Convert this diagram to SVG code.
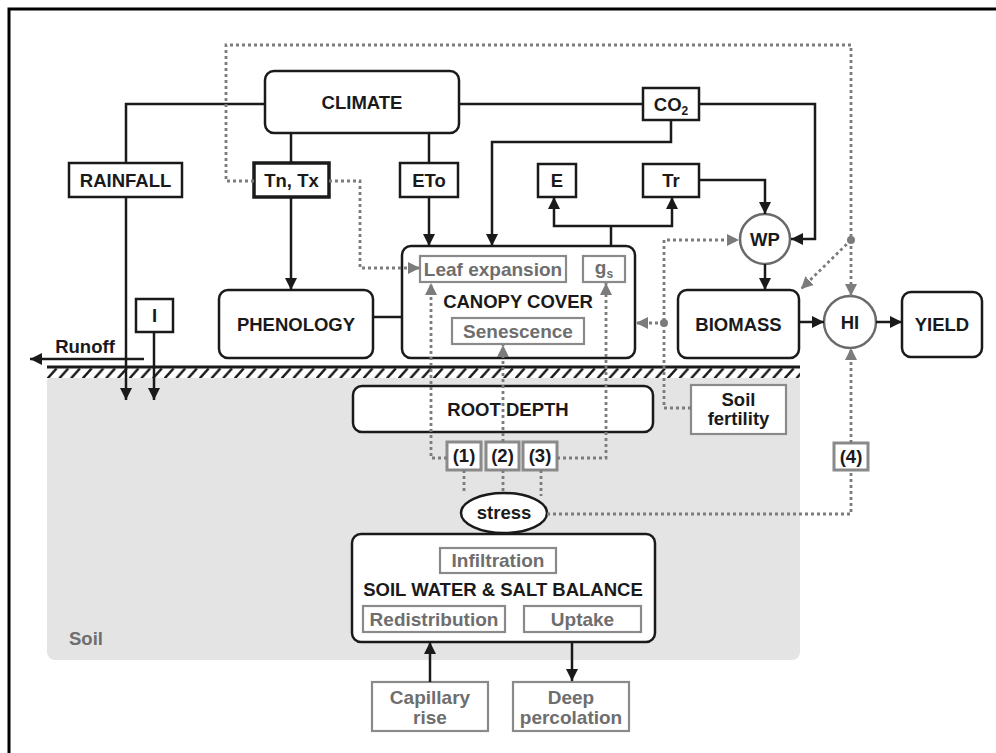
<svg xmlns="http://www.w3.org/2000/svg" width="996" height="753" viewBox="0 0 996 753">
<defs>
<style>
text{font-family:"Liberation Sans",Arial,sans-serif;font-weight:bold;text-anchor:middle}
.t{font-size:18.5px;fill:#1a1a1a}
.g{font-size:19px;fill:#6e6e6e}
.bx{fill:#fff;stroke:#1a1a1a;stroke-width:2.5}
.gb{fill:#fff;stroke:#8a8a8a;stroke-width:2.2}
.ln{fill:none;stroke:#1a1a1a;stroke-width:2.5}
.dt{fill:none;stroke:#7c7c7c;stroke-width:2.8;stroke-dasharray:3 3}
.ce{fill:#fff;stroke:#6a6a6a;stroke-width:2.5}
</style>
<marker id="a" viewBox="0 0 10 10" refX="10" refY="5" markerWidth="12" markerHeight="12" markerUnits="userSpaceOnUse" orient="auto"><path d="M0,0L10,5L0,10z" fill="#1a1a1a"/></marker>
<marker id="ag" viewBox="0 0 10 10" refX="10" refY="5" markerWidth="12" markerHeight="12" markerUnits="userSpaceOnUse" orient="auto"><path d="M0,0L10,5L0,10z" fill="#7c7c7c"/></marker>
<pattern id="hatch" patternUnits="userSpaceOnUse" x="47" y="367" width="11.7" height="12"><path d="M0.5,11.5L9.5,1.5" stroke="#1a1a1a" stroke-width="2.5"/></pattern>
</defs>
<rect width="996" height="753" fill="#fff"/>
<g id="background">
<path d="M9,753V9H996" fill="none" stroke="#000" stroke-width="3"/>
<rect x="47" y="374" width="753" height="286" rx="8" fill="#e4e4e4"/>
<rect x="47" y="367" width="753" height="11" fill="#fff"/>
<rect x="47" y="367" width="753" height="11" fill="url(#hatch)"/>
<path d="M47,367H800" stroke="#1a1a1a" stroke-width="3"/>
<text x="86" y="645" style="font-size:18.5px;fill:#6e6e6e">Soil</text>
<text x="85" y="353" class="t">Runoff</text>
</g>
<g id="climate"><rect class="bx" x="265" y="71" width="194" height="62" rx="9"/><text class="t" x="362" y="108.5">CLIMATE</text></g>
<g id="rainfall"><rect class="bx" x="69" y="163" width="113" height="34"/><text class="t" x="125.5" y="186.5">RAINFALL</text></g>
<g id="tntx"><rect class="bx" x="254" y="163" width="75" height="34" style="stroke-width:3.5"/><text class="t" x="291.5" y="186.5">Tn, Tx</text></g>
<g id="eto"><rect class="bx" x="400" y="163" width="58" height="34"/><text class="t" x="429" y="186.5">ETo</text></g>
<g id="co2"><rect class="bx" x="643" y="88" width="56" height="32"/><text class="t" x="671" y="110.5">CO<tspan style="font-size:12px" dy="4">2</tspan></text></g>
<g id="e"><rect class="bx" x="538" y="164" width="38" height="33"/><text class="t" x="557" y="187">E</text></g>
<g id="tr"><rect class="bx" x="643" y="164" width="56" height="33"/><text class="t" x="671" y="187">Tr</text></g>
<g id="wp"><circle class="ce" cx="765" cy="239" r="25"/><text class="t" x="765" y="245.5">WP</text></g>
<g id="canopy">
<rect class="bx" x="402" y="246" width="233" height="112" rx="9"/>
<rect class="gb" x="420" y="256" width="146" height="26"/><text class="g" x="493" y="275.5">Leaf expansion</text>
<rect class="gb" x="583" y="256" width="42" height="26"/><text class="g" x="604" y="274">g<tspan style="font-size:12px" dy="4">s</tspan></text>
<text class="t" x="518" y="307.5">CANOPY COVER</text>
<rect class="gb" x="452" y="318" width="132" height="26"/><text class="g" x="518" y="337.5">Senescence</text>
</g>
<g id="phenology"><rect class="bx" x="219" y="290" width="154" height="68" rx="9"/><text class="t" x="296" y="330.5">PHENOLOGY</text></g>
<g id="biomass"><rect class="bx" x="678" y="290" width="121" height="68" rx="9"/><text class="t" x="738.5" y="330.5">BIOMASS</text></g>
<g id="hi"><circle class="ce" cx="850" cy="322" r="26"/><text class="t" x="850" y="328.5">HI</text></g>
<g id="yield"><rect class="bx" x="902" y="292" width="80" height="65" rx="9"/><text class="t" x="942" y="330.5">YIELD</text></g>
<g id="irrigation"><rect class="bx" x="136" y="299" width="37" height="33"/><text class="t" x="154.5" y="322">I</text></g>
<g id="rootdepth"><rect class="bx" x="353" y="386" width="300" height="46" rx="9"/><text class="t" x="508" y="415.5">ROOT DEPTH</text></g>
<g id="soilfertility"><rect class="gb" x="691" y="385" width="95" height="49"/><text class="t" x="738.5" y="406">Soil</text><text class="t" x="738.5" y="425">fertility</text></g>
<g id="s1"><rect class="gb" x="447" y="442" width="34" height="28" style="stroke-width:3"/><text class="t" x="464" y="462">(1)</text></g>
<g id="s2"><rect class="gb" x="486" y="442" width="33" height="28" style="stroke-width:3"/><text class="t" x="502.5" y="462">(2)</text></g>
<g id="s3"><rect class="gb" x="523" y="442" width="34" height="28" style="stroke-width:3"/><text class="t" x="540" y="462">(3)</text></g>
<g id="s4"><rect class="gb" x="834" y="443" width="34" height="27" style="stroke-width:3"/><text class="t" x="851" y="463">(4)</text></g>
<g id="stress"><ellipse class="bx" cx="504" cy="513" rx="43" ry="20"/><text class="t" x="504" y="519">stress</text></g>
<g id="soilwater">
<rect class="bx" x="352" y="534" width="303" height="108" rx="9"/>
<rect class="gb" x="440" y="548" width="116" height="25"/><text class="g" x="498" y="567">Infiltration</text>
<text class="t" x="503" y="595.5">SOIL WATER &amp; SALT BALANCE</text>
<rect class="gb" x="363" y="606" width="142" height="26"/><text class="g" x="434" y="625.5">Redistribution</text>
<rect class="gb" x="524" y="606" width="117" height="26"/><text class="g" x="582.5" y="625.5">Uptake</text>
</g>
<g id="capillary"><rect class="gb" x="372" y="682" width="116" height="49"/><text class="g" x="430" y="703.5">Capillary</text><text class="g" x="430" y="723.5">rise</text></g>
<g id="deep"><rect class="gb" x="513" y="682" width="116" height="49"/><text class="g" x="571" y="703.5">Deep</text><text class="g" x="571" y="723.5">percolation</text></g>
<g id="connectors">
<path class="ln" d="M265,104H126V163"/>
<path class="ln" d="M291,133V163"/>
<path class="ln" d="M429,133V163"/>
<path class="ln" d="M459,104H643"/>
<path class="ln" d="M699,104H815V239H791" marker-end="url(#a)"/>
<path class="ln" d="M671,120V142H492V246" marker-end="url(#a)"/>
<path class="ln" d="M429,197V246" marker-end="url(#a)"/>
<path class="ln" d="M291,197V290" marker-end="url(#a)"/>
<path class="ln" d="M126,197V400" marker-end="url(#a)"/>
<path class="ln" d="M154,332V400" marker-end="url(#a)"/>
<path class="ln" d="M144,359H30" marker-end="url(#a)"/>
<path class="ln" d="M373,317H402"/>
<path class="ln" d="M611,246V226"/>
<path class="ln" d="M611,226H554V197" marker-end="url(#a)"/>
<path class="ln" d="M611,226H672V197" marker-end="url(#a)"/>
<path class="ln" d="M699,180H765V214" marker-end="url(#a)"/>
<path class="ln" d="M765,264V290" marker-end="url(#a)"/>
<path class="ln" d="M799,322H824" marker-end="url(#a)"/>
<path class="ln" d="M876,322H902" marker-end="url(#a)"/>
<path class="ln" d="M430,682V642" marker-end="url(#a)"/>
<path class="ln" d="M572,642V681" marker-end="url(#a)"/>
<path class="dt" d="M254,181H226V45H851V296" marker-end="url(#ag)"/>
<circle cx="851" cy="240" r="4" fill="#7c7c7c"/>
<path class="dt" d="M851,240L801,289" marker-end="url(#ag)"/>
<path class="dt" d="M329,181H360V268H420" marker-end="url(#ag)"/>
<path class="dt" d="M691,408H664V240H739" marker-end="url(#ag)"/>
<circle cx="664" cy="323" r="4" fill="#7c7c7c"/>
<path class="dt" d="M664,323H636" marker-end="url(#ag)"/>
<path class="dt" d="M447,458H431V283" marker-end="url(#ag)"/>
<path class="dt" d="M557,458H606V283" marker-end="url(#ag)"/>
<path class="dt" d="M503,442V345" marker-end="url(#ag)"/>
<path class="dt" d="M464,470V494M503,470V493M541,470V496"/>
<path class="dt" d="M547,514H851V470"/>
<path class="dt" d="M851,443V348" marker-end="url(#ag)"/>
</g>
</svg>
